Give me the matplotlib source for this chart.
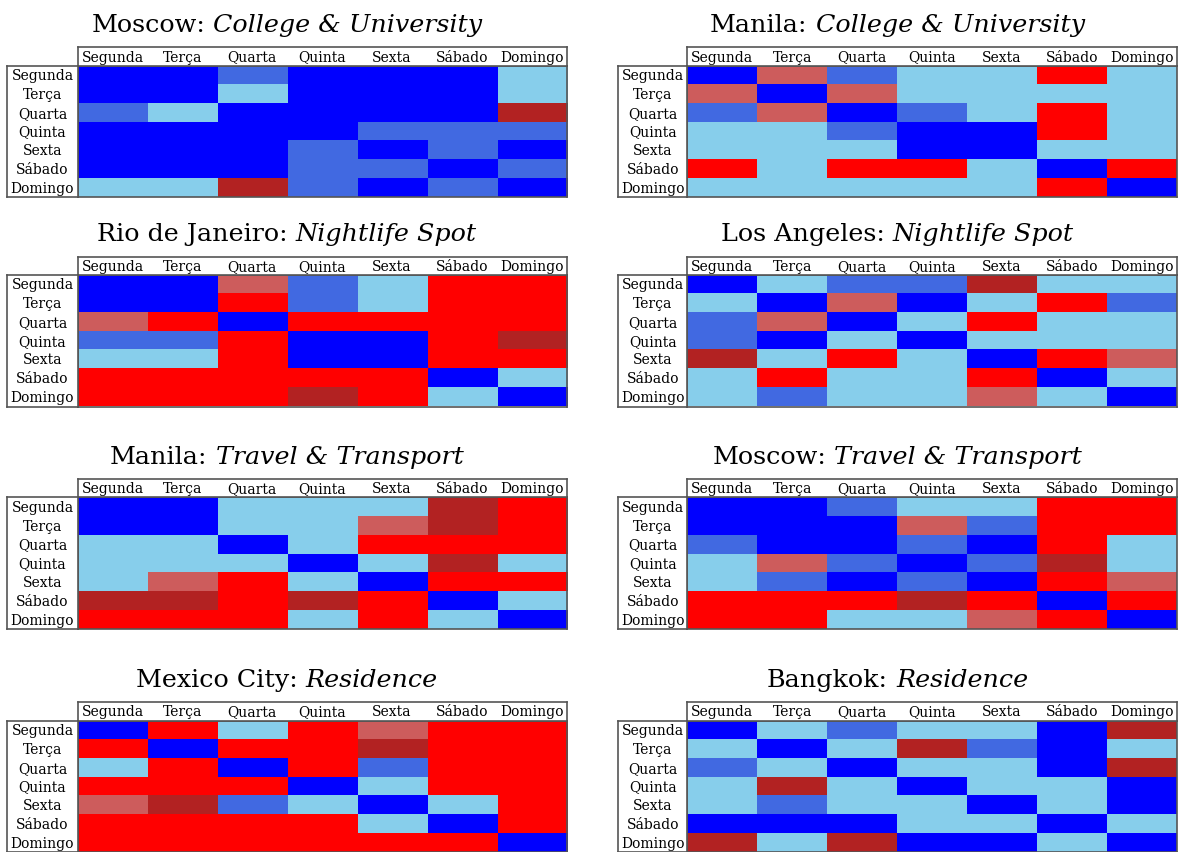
import numpy as np
import matplotlib
matplotlib.use("Agg")
import matplotlib.pyplot as plt
from matplotlib.colors import ListedColormap

plt.rcParams["font.family"] = ["DejaVu Serif"]

days = ["Segunda", "Terça", "Quarta", "Quinta", "Sexta", "Sábado", "Domingo"]

# colour classes: B blue, R royal blue, S sky blue, I indian red, F firebrick, X red
level_keys = "BRSIFX"
level_colors = ["#0000FF", "#4169E1", "#87CEEB", "#CD5C5C", "#B22222", "#FF0000"]

moscow_college = ["BBRBBBS", "BBSBBBS", "RSBBBBF", "BBBBRRR",
                  "BBBRBRB", "BBBRRBR", "SSFRBRB"]
manila_college = ["BIRSSXS", "IBISSSS", "RIBRSXS", "SSRBBXS",
                  "SSSBBSS", "XSXXSBX", "SSSSSXB"]
rio_nightlife = ["BBIRSXX", "BBXRSXX", "IXBXXXX", "RRXBBXF",
                 "SSXBBXX", "XXXXXBS", "XXXFXSB"]
la_nightlife = ["BSRRFSS", "SBIBSXR", "RIBSXSS", "RBSBSSS",
                "FSXSBXI", "SXSSXBS", "SRSSISB"]
manila_travel = ["BBSSSFX", "BBSSIFX", "SSBSXXX", "SSSBSFS",
                 "SIXSBXX", "FFXFXBS", "XXXSXSB"]
moscow_travel = ["BBRSSXX", "BBBIRXX", "RBBRBXS", "SIRBRFS",
                 "SRBRBXI", "XXXFXBX", "XXSSIXB"]
mexico_residence = ["BXSXIXX", "XBXXFXX", "SXBXRXX", "XXXBSXX",
                    "IFRSBSX", "XXXXSBX", "XXXXXXB"]
bangkok_residence = ["BSRSSBF", "SBSFRBS", "RSBSSBF", "SFSBSSB",
                     "SRSSBSB", "BBBSSBS", "FSFBBSB"]

cities = ["Moscow", "Manila", "Rio de Janeiro", "Los Angeles",
          "Manila", "Moscow", "Mexico City", "Bangkok"]
venues = ["College & University", "College & University",
          "Nightlife Spot", "Nightlife Spot",
          "Travel & Transport", "Travel & Transport",
          "Residence", "Residence"]
grids = [moscow_college, manila_college, rio_nightlife, la_nightlife,
         manila_travel, moscow_travel, mexico_residence, bangkok_residence]

W, H = 1179, 853
fig = plt.figure(figsize=(W / 100, H / 100), dpi=100)
renderer = fig.canvas.get_renderer()
cmap = ListedColormap(level_colors)
edge = "#555555"
lw = 1.2
title_size = 18.3

col_left = [(7.3, 77.7, 566.7), (618.3, 687.3, 1176.5)]
head_tops = [48.3, 257.5, 480.0, 703.3]
head_h = 18.4
row_h = 18.8


def box(x0, y0, x1, y1):
    """figure-fraction rectangle from pixel corners (y measured from top)"""
    return [x0 / W, 1 - y1 / H, (x1 - x0) / W, (y1 - y0) / H]


def tidy(ax):
    ax.set_xticks([])
    ax.set_yticks([])
    for s in ax.spines.values():
        s.set_color(edge)
        s.set_linewidth(lw)


def two_part_title(xc, yb, plain, italic):
    """regular city name followed by an italic venue, centred on xc (pixels)"""
    t1 = fig.text(0, 1 - yb / H, plain + ":", fontsize=title_size,
                  va="baseline", ha="left")
    t2 = fig.text(0, 1 - yb / H, italic, fontsize=title_size,
                  style="italic", va="baseline", ha="left")
    w1 = t1.get_window_extent(renderer).width
    w2 = t2.get_window_extent(renderer).width
    gap = title_size * 100 / 72 * 0.32
    x0 = xc - (w1 + gap + w2) / 2
    t1.set_x(x0 / W)
    t2.set_x((x0 + w1 + gap) / W)


for k, (city, venue, grid) in enumerate(zip(cities, venues, grids)):
    r, c = divmod(k, 2)
    lx, cx0, cx1 = col_left[c]
    ht = head_tops[r]
    ct = ht + head_h
    cb = ct + 7 * row_h
    codes = np.array([[level_keys.index(ch) for ch in row] for row in grid])

    ax = fig.add_axes(box(cx0, ct, cx1, cb))
    ax.imshow(codes, cmap=cmap, vmin=-0.5, vmax=5.5, aspect="auto",
              interpolation="nearest")
    tidy(ax)

    axh = fig.add_axes(box(cx0, ht, cx1, ct))
    axh.set_xlim(-0.5, 6.5)
    axh.set_ylim(0, 1)
    tidy(axh)
    for i, d in enumerate(days):
        axh.text(i, 0.5, d, ha="center", va="center", fontsize=10)

    axr = fig.add_axes(box(lx, ct, cx0, cb))
    axr.set_ylim(6.5, -0.5)
    axr.set_xlim(0, 1)
    tidy(axr)
    for j, d in enumerate(days):
        axr.text(0.5, j, d, ha="center", va="center", fontsize=10)

    two_part_title((lx + cx1) / 2, ht - 16, city, venue)

fig.savefig("out.png", dpi=100)
